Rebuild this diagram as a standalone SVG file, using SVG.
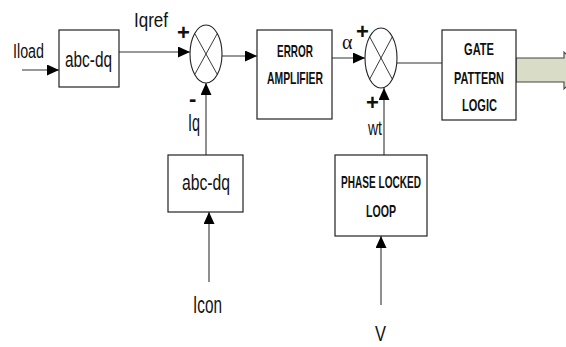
<svg xmlns="http://www.w3.org/2000/svg" width="566" height="347" viewBox="0 0 566 347">
<defs>
<style>
.box{fill:#fff;stroke:#222;stroke-width:1.2}
.sum{fill:#fff;stroke:#222;stroke-width:1.1}
.x{stroke:#222;stroke-width:0.9}
.ln{fill:none;stroke:#333;stroke-width:1.1}
.t{font-family:"Liberation Sans",Arial,sans-serif;fill:#111}
.b{font-family:"Liberation Sans",Arial,sans-serif;font-weight:bold;font-size:17px;fill:#111}
</style>
<marker id="ah" markerUnits="userSpaceOnUse" markerWidth="14" markerHeight="12" refX="12" refY="5.5" orient="auto">
<path d="M0,0 L12,5.5 L0,11 Z" fill="#000"/>
</marker>
</defs>
<rect width="566" height="347" fill="#fff"/>

<g id="connectors">
<line class="ln" x1="22" y1="70" x2="59" y2="70" marker-end="url(#ah)"/>
<line class="ln" x1="119" y1="52" x2="190" y2="52" marker-end="url(#ah)"/>
<line class="ln" x1="222" y1="56" x2="257" y2="56" marker-end="url(#ah)"/>
<line class="ln" x1="206" y1="155" x2="206" y2="83" marker-end="url(#ah)"/>
<line class="ln" x1="209" y1="282" x2="209" y2="212" marker-end="url(#ah)"/>
<line class="ln" x1="332" y1="58" x2="365" y2="58" marker-end="url(#ah)"/>
<line class="ln" x1="397" y1="63" x2="442" y2="63"/>
<line class="ln" x1="384" y1="155" x2="384" y2="88" marker-end="url(#ah)"/>
<line class="ln" x1="381" y1="305" x2="381" y2="236" marker-end="url(#ah)"/>
<path d="M516,58 H564 V52 L582,70.5 L564,89 V82 H516 Z" fill="#d9dcc6" stroke="#444" stroke-width="1.1"/>
</g>

<g id="labels">
<text class="t" x="13" y="58" font-size="20" textLength="31" lengthAdjust="spacingAndGlyphs">Iload</text>
<text class="t" x="134" y="27" font-size="20" textLength="34" lengthAdjust="spacingAndGlyphs">Iqref</text>
<text class="t" x="177" y="40" font-size="22" font-weight="bold">+</text>
<text class="t" x="189" y="106" font-size="22" font-weight="bold">-</text>
<text class="t" x="188" y="131" font-size="24" textLength="12" lengthAdjust="spacingAndGlyphs">Iq</text>
<text class="t" x="193" y="313" font-size="24" textLength="29" lengthAdjust="spacingAndGlyphs">Icon</text>
<text x="342" y="49" font-family="'Liberation Serif','Times New Roman',serif" font-size="20" fill="#111">α</text>
<text class="t" x="356" y="39" font-size="22" font-weight="bold">+</text>
<text class="t" x="366" y="110" font-size="22" font-weight="bold">+</text>
<text class="t" x="368" y="135" font-size="21" textLength="14" lengthAdjust="spacingAndGlyphs">wt</text>
<text class="t" x="375" y="341" font-size="22" textLength="11" lengthAdjust="spacingAndGlyphs">V</text>
</g>

<g id="abcdq1">
<rect class="box" x="59" y="30" width="60" height="57"/>
<text class="t" x="65" y="67" font-size="22" textLength="47" lengthAdjust="spacingAndGlyphs">abc-dq</text>
</g>

<g id="sum1">
<ellipse class="sum" cx="206" cy="54" rx="16" ry="29"/>
<line class="x" x1="194.7" y1="33.5" x2="217.3" y2="74.5"/>
<line class="x" x1="217.3" y1="33.5" x2="194.7" y2="74.5"/>
</g>

<g id="abcdq2">
<rect class="box" x="168" y="155" width="75" height="57"/>
<text class="t" x="182" y="190" font-size="22" textLength="48" lengthAdjust="spacingAndGlyphs">abc-dq</text>
</g>

<g id="erroramp">
<rect class="box" x="257" y="30" width="75" height="89"/>
<text class="b" x="277" y="57" textLength="36" lengthAdjust="spacingAndGlyphs">ERROR</text>
<text class="b" x="267" y="84" textLength="56" lengthAdjust="spacingAndGlyphs">AMPLIFIER</text>
</g>

<g id="sum2">
<ellipse class="sum" cx="381" cy="58" rx="16" ry="30"/>
<line class="x" x1="369.7" y1="36.8" x2="392.3" y2="79.2"/>
<line class="x" x1="392.3" y1="36.8" x2="369.7" y2="79.2"/>
</g>

<g id="pll">
<rect class="box" x="335" y="155" width="92" height="81"/>
<text class="b" x="341" y="188" textLength="80" lengthAdjust="spacingAndGlyphs">PHASE LOCKED</text>
<text class="b" x="366" y="217" textLength="30" lengthAdjust="spacingAndGlyphs">LOOP</text>
</g>

<g id="gate">
<rect class="box" x="442" y="30" width="74" height="90"/>
<text class="b" x="464" y="55" textLength="30" lengthAdjust="spacingAndGlyphs">GATE</text>
<text class="b" x="454" y="84" textLength="50" lengthAdjust="spacingAndGlyphs">PATTERN</text>
<text class="b" x="462" y="111" textLength="35" lengthAdjust="spacingAndGlyphs">LOGIC</text>
</g>
</svg>
